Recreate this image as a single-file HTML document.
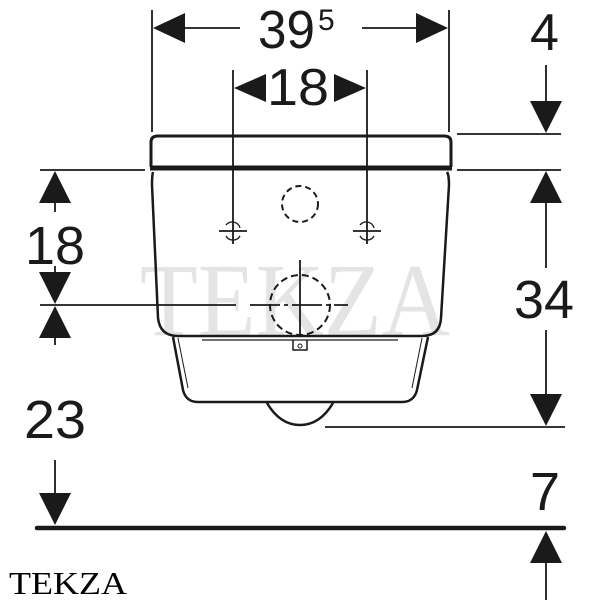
<!DOCTYPE html>
<html><head><style>body{margin:0;background:#fff}svg{display:block}</style></head><body>
<svg width="600" height="600" viewBox="0 0 600 600" xmlns="http://www.w3.org/2000/svg" font-family="Liberation Sans, sans-serif" fill="#1a1a1a">
<text x="295" y="335" font-family="Liberation Serif, serif" font-size="104" fill="#e4e4e4" text-anchor="middle" textLength="310" lengthAdjust="spacingAndGlyphs">TEKZA</text>
<g stroke="#1a1a1a" fill="none">
<path d="M151,167 L151,142 Q151,136 158,136 L444,136 Q451,136 451,142 L451,167" stroke-width="3"/>
<line x1="150" y1="168" x2="452" y2="168" stroke-width="5"/>
<path d="M153,172 Q152,175 152,185 L158,318 Q160,336 178,336 L422,336 Q440,336 441,318 L449,185 Q449,175 447,172" stroke-width="2.5"/>
<path d="M173,337 L183,390 Q186,402 198,402 L402,402 Q414,402 417,390 L428,337" stroke-width="2.5"/>
<path d="M178,338 L188,388" stroke-width="1"/>
<path d="M422,338 L412,388" stroke-width="1"/>
<line x1="202" y1="340" x2="398" y2="340" stroke-width="1.2"/>
<path d="M293,340 L293,350 L307,350 L307,340" stroke-width="1.5"/>
<circle cx="300" cy="346" r="2" stroke-width="1"/>
<path d="M267,403 Q280,425 300,425 Q320,425 333,403" stroke-width="2.5"/>
<circle cx="300" cy="204" r="18" stroke-width="2" stroke-dasharray="6,4"/>
<circle cx="300" cy="305" r="30" stroke-width="2" stroke-dasharray="7,4"/>
<line x1="300" y1="260" x2="300" y2="335" stroke-width="1.8"/>
<line x1="250" y1="305" x2="348" y2="305" stroke-width="1.8" stroke-dasharray="30,4,4,4"/>
<line x1="233" y1="70" x2="233" y2="244" stroke-width="1.8"/>
<line x1="367" y1="70" x2="367" y2="244" stroke-width="1.8"/>
<line x1="219" y1="231" x2="247" y2="231" stroke-width="1.8"/>
<line x1="353" y1="231" x2="381" y2="231" stroke-width="1.8"/>
<path d="M226,225 A8,8 0 0 1 240,228 M240,236 A8,8 0 0 1 226,236" stroke-width="1.3"/>
<path d="M360,225 A8,8 0 0 1 374,228 M374,236 A8,8 0 0 1 360,236" stroke-width="1.3"/>
<line x1="152" y1="10" x2="152" y2="132" stroke-width="1.8"/>
<line x1="449" y1="10" x2="449" y2="132" stroke-width="1.8"/>
<line x1="185" y1="28" x2="240" y2="28" stroke-width="1.8"/>
<line x1="362" y1="28" x2="416" y2="28" stroke-width="1.8"/>
<line x1="457" y1="134" x2="561" y2="134" stroke-width="1.8"/>
<line x1="457" y1="170" x2="561" y2="170" stroke-width="1.8"/>
<line x1="40" y1="170" x2="145" y2="170" stroke-width="1.8"/>
<line x1="40" y1="305" x2="236" y2="305" stroke-width="1.8"/>
<line x1="325" y1="427" x2="565" y2="427" stroke-width="1.8"/>
<line x1="37" y1="528" x2="564" y2="528" stroke-width="4.5" stroke-linecap="round"/>
<line x1="546" y1="65" x2="546" y2="110" stroke-width="1.8"/>
<line x1="546" y1="195" x2="546" y2="268" stroke-width="1.8"/>
<line x1="546" y1="330" x2="546" y2="400" stroke-width="1.8"/>
<line x1="546" y1="560" x2="546" y2="600" stroke-width="1.8"/>
<line x1="55" y1="195" x2="55" y2="212" stroke-width="1.8"/>
<line x1="55" y1="266" x2="55" y2="280" stroke-width="1.8"/>
<line x1="55" y1="330" x2="55" y2="345" stroke-width="1.8"/>
<line x1="55" y1="460" x2="55" y2="500" stroke-width="1.8"/>
</g>
<g fill="#1a1a1a">
<polygon points="153,28 185,13 185,43"/>
<polygon points="448,28 416,13 416,43"/>
<polygon points="234,88 266,74 266,102"/>
<polygon points="366,88 334,74 334,102"/>
<polygon points="546,133 530,101 562,101"/>
<polygon points="546,171 530,203 562,203"/>
<polygon points="546,426 530,394 562,394"/>
<polygon points="546,531 530,563 562,563"/>
<polygon points="55,171 39,203 71,203"/>
<polygon points="55,304 39,272 71,272"/>
<polygon points="55,306 39,338 71,338"/>
<polygon points="55,525 39,493 71,493"/>
</g>
<text x="258" y="48" font-size="54" textLength="57" lengthAdjust="spacingAndGlyphs">39</text>
<text x="318" y="30" font-size="30">5</text>
<text x="267" y="105" font-size="52" textLength="62" lengthAdjust="spacingAndGlyphs">18</text>
<text x="530" y="50" font-size="52">4</text>
<text x="514" y="318" font-size="54" textLength="60" lengthAdjust="spacingAndGlyphs">34</text>
<text x="530" y="510" font-size="54">7</text>
<text x="25" y="264" font-size="54" textLength="60" lengthAdjust="spacingAndGlyphs">18</text>
<text x="24" y="438" font-size="54" textLength="62" lengthAdjust="spacingAndGlyphs">23</text>
<text x="9" y="594" font-family="Liberation Serif, serif" font-size="32" fill="#000" textLength="118" lengthAdjust="spacingAndGlyphs">TEKZA</text>
</svg>
</body></html>
